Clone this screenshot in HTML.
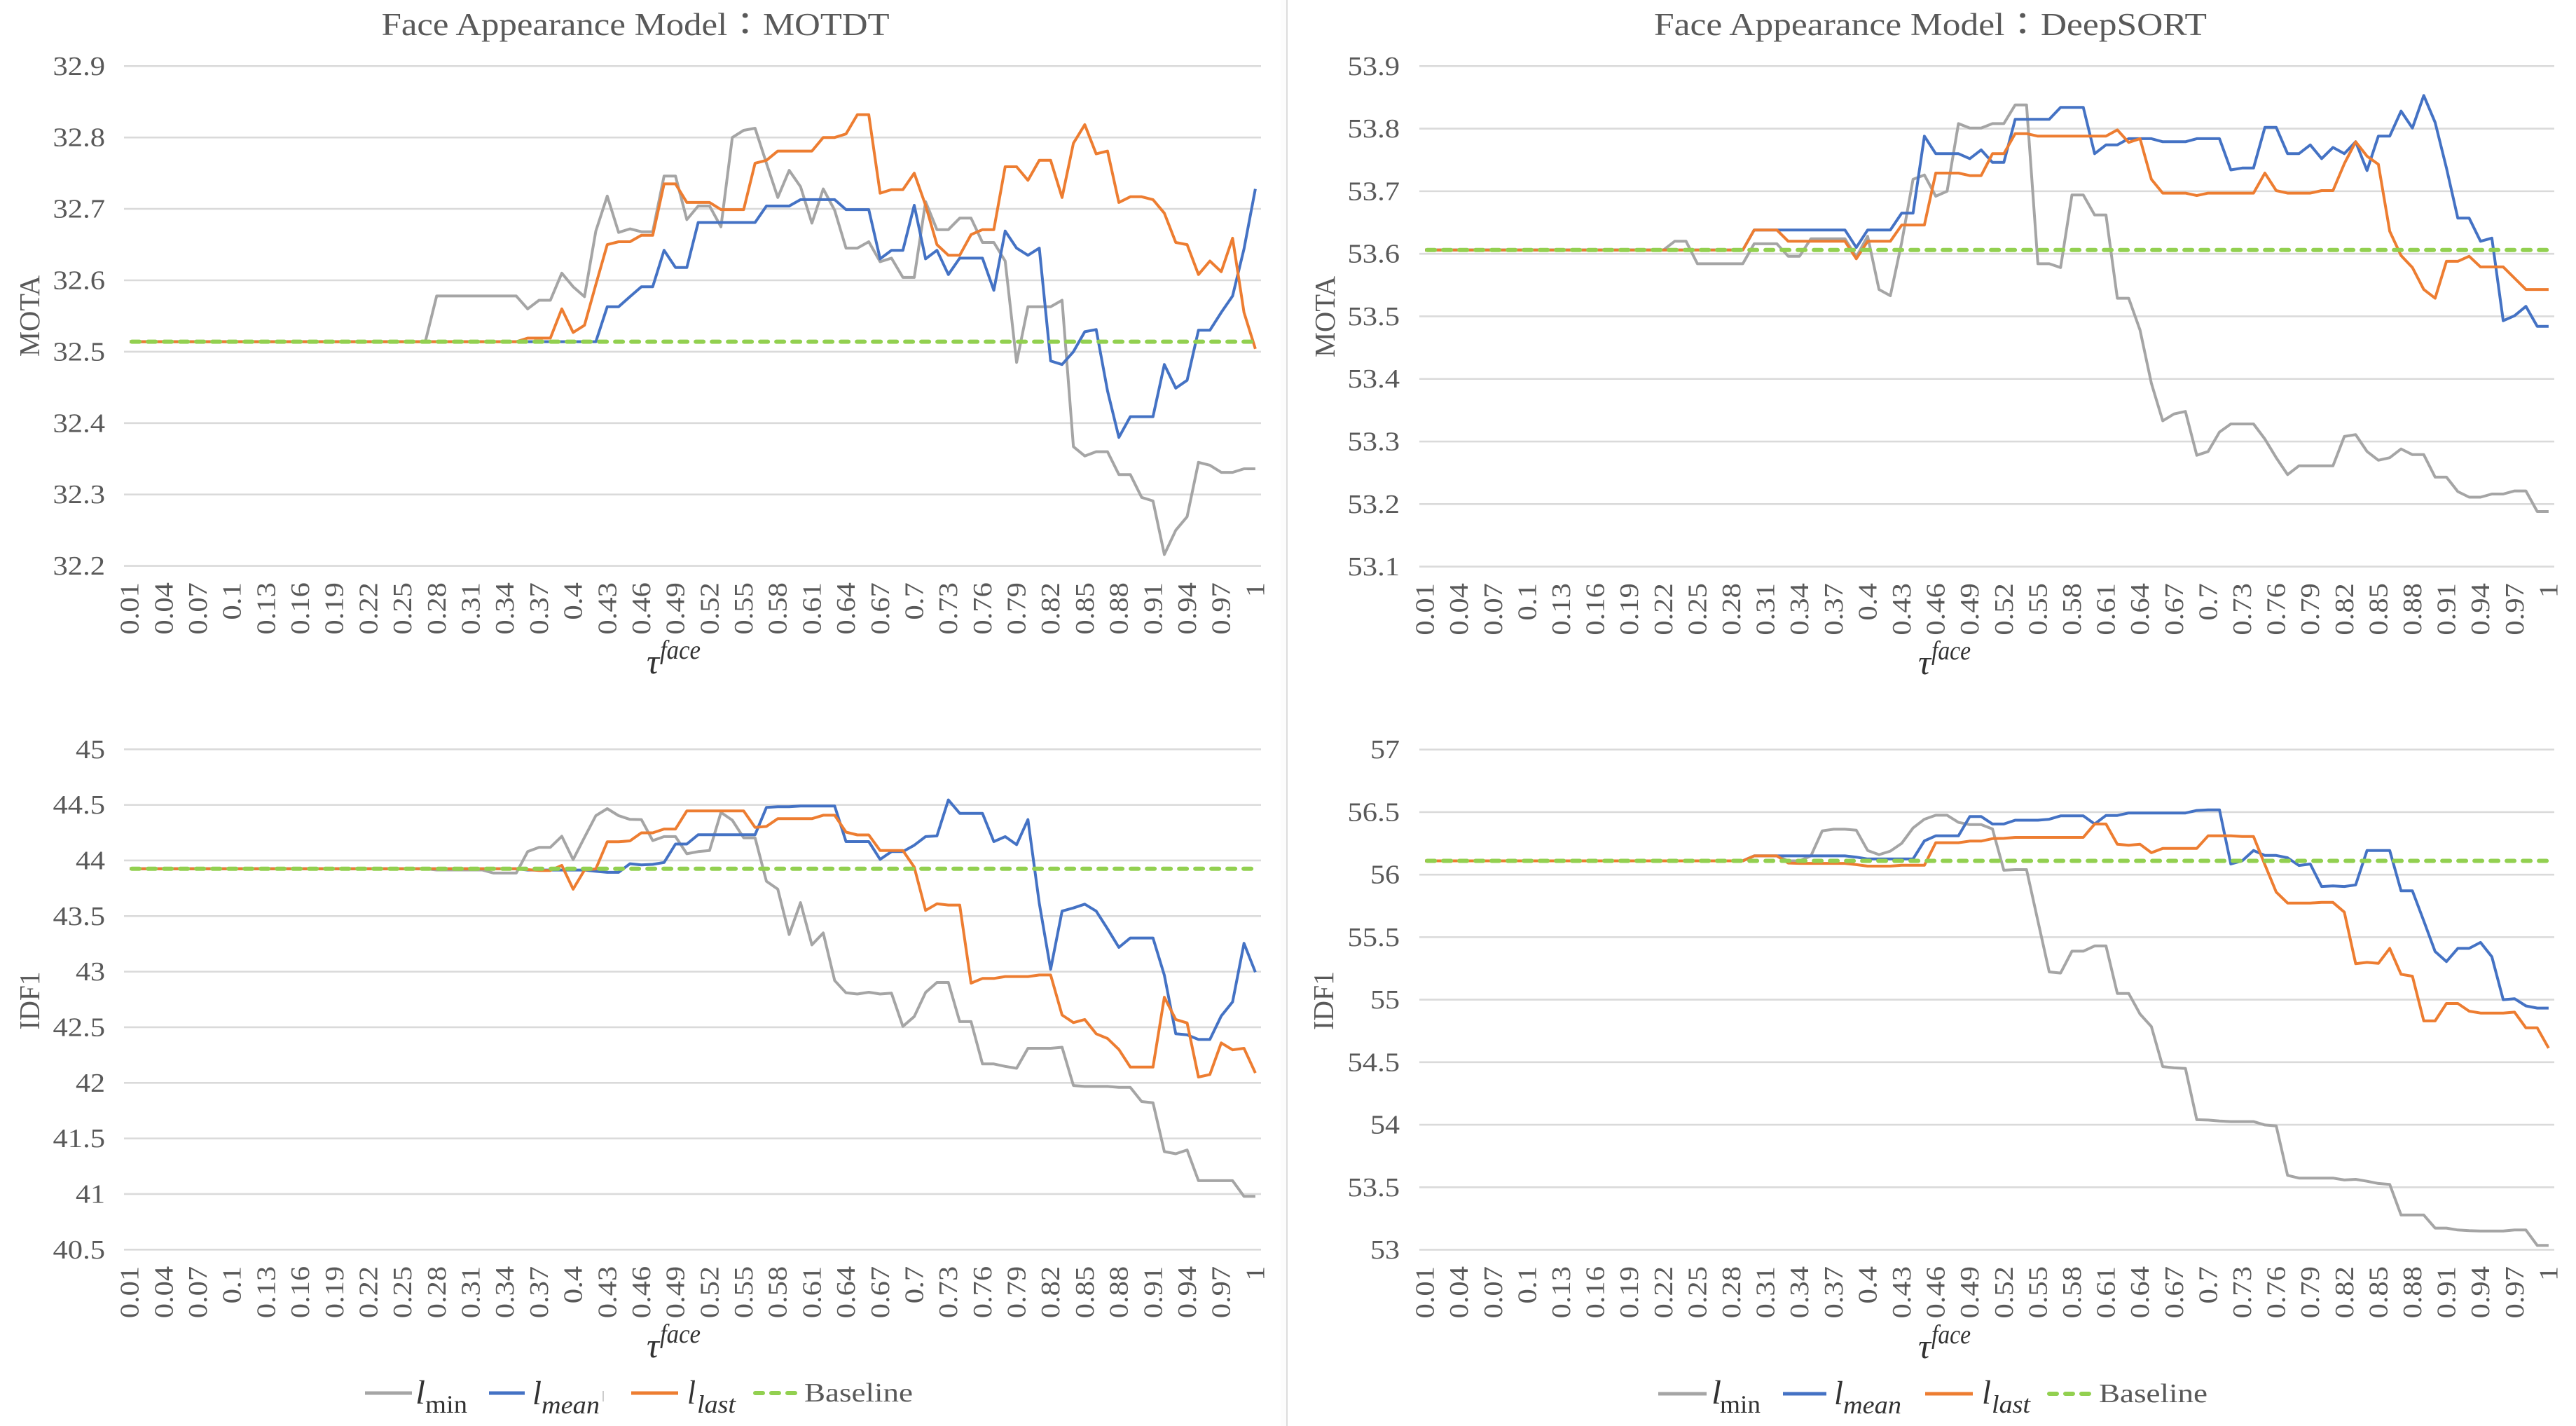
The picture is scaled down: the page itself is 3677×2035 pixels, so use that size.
<!DOCTYPE html>
<html lang="en">
<head>
<meta charset="utf-8">
<title>Face Appearance Model charts</title>
<style>
html,body{margin:0;padding:0;background:#fff;}
svg{display:block;}
text{fill:#595959;font-family:"Liberation Serif","Noto Sans CJK TC",serif;}
.math{fill:#333;font-style:italic;}
</style>
</head>
<body>
<svg id="figure" xmlns="http://www.w3.org/2000/svg" width="3677" height="2035" viewBox="0 0 3677 2035">
  <rect x="0" y="0" width="3677" height="2035" fill="#ffffff"/>
  <rect x="1828" y="0" width="9" height="2035" fill="#fcfcfc"/>
  <line x1="1837" y1="0" x2="1837" y2="2035" stroke="#dcdcdc" stroke-width="2"/>

  <text x="544.6" y="50" font-size="45" textLength="725" lengthAdjust="spacingAndGlyphs">Face Appearance Model：MOTDT</text>
  <text x="2361" y="50" font-size="45" textLength="789" lengthAdjust="spacingAndGlyphs">Face Appearance Model：DeepSORT</text>

  <text transform="rotate(-90 56 451)" x="56" y="451" font-size="41" text-anchor="middle" textLength="116" lengthAdjust="spacingAndGlyphs">MOTA</text>
  <text transform="rotate(-90 1905 452)" x="1905" y="452" font-size="41" text-anchor="middle" textLength="116" lengthAdjust="spacingAndGlyphs">MOTA</text>
  <text transform="rotate(-90 56 1428)" x="56" y="1428" font-size="41" text-anchor="middle" textLength="83" lengthAdjust="spacingAndGlyphs">IDF1</text>
  <text transform="rotate(-90 1903 1428)" x="1903" y="1428" font-size="41" text-anchor="middle" textLength="84" lengthAdjust="spacingAndGlyphs">IDF1</text>

  <g>
    <text class="math" x="923" y="961" font-size="50">τ</text>
    <text class="math" x="942" y="940" font-size="38" textLength="58" lengthAdjust="spacingAndGlyphs">face</text>
  </g>
  <g>
    <text class="math" x="2738" y="962" font-size="50">τ</text>
    <text class="math" x="2757" y="941" font-size="38" textLength="56" lengthAdjust="spacingAndGlyphs">face</text>
  </g>
  <g>
    <text class="math" x="923" y="1937" font-size="50">τ</text>
    <text class="math" x="942" y="1916" font-size="38" textLength="58" lengthAdjust="spacingAndGlyphs">face</text>
  </g>
  <g>
    <text class="math" x="2738" y="1938" font-size="50">τ</text>
    <text class="math" x="2757" y="1917" font-size="38" textLength="56" lengthAdjust="spacingAndGlyphs">face</text>
  </g>

  <g id="plots"></g>

  <g>
    <g>
      <line x1="521" y1="1988" x2="588" y2="1988" stroke="#a5a5a5" stroke-width="5"/>
      <text class="math" x="593" y="2003" font-size="48" textLength="14" lengthAdjust="spacingAndGlyphs">l</text>
      <text x="607" y="2016" font-size="36" textLength="60" lengthAdjust="spacingAndGlyphs" fill="#333" style="fill:#333">min</text>
    </g>
    <g>
      <line x1="698" y1="1988" x2="749" y2="1988" stroke="#4472c4" stroke-width="5"/>
      <text class="math" x="760" y="2004" font-size="48" textLength="13" lengthAdjust="spacingAndGlyphs">l</text>
      <text class="math" x="773" y="2017" font-size="36" textLength="83" lengthAdjust="spacingAndGlyphs">mean</text>
      <line x1="861" y1="1985" x2="861" y2="2000" stroke="#bbbbbb" stroke-width="1.5"/>
    </g>
    <g>
      <line x1="901" y1="1988" x2="968" y2="1988" stroke="#ed7d31" stroke-width="5"/>
      <text class="math" x="981" y="2003" font-size="48" textLength="12" lengthAdjust="spacingAndGlyphs">l</text>
      <text class="math" x="995" y="2016" font-size="36" textLength="55" lengthAdjust="spacingAndGlyphs">last</text>
    </g>
    <g>
      <line x1="1078" y1="1988" x2="1136" y2="1988" stroke="#92d050" stroke-width="6" stroke-dasharray="11 12" stroke-linecap="round"/>
      <text x="1148" y="2000" font-size="38" textLength="155" lengthAdjust="spacingAndGlyphs">Baseline</text>
    </g>
  </g>

  <g>
    <g>
      <line x1="2367" y1="1989" x2="2436" y2="1989" stroke="#a5a5a5" stroke-width="5"/>
      <text class="math" x="2443" y="2003" font-size="48" textLength="14" lengthAdjust="spacingAndGlyphs">l</text>
      <text x="2455" y="2016" font-size="36" textLength="58" lengthAdjust="spacingAndGlyphs" style="fill:#333">min</text>
    </g>
    <g>
      <line x1="2545" y1="1989" x2="2607" y2="1989" stroke="#4472c4" stroke-width="5"/>
      <text class="math" x="2618" y="2004" font-size="48" textLength="13" lengthAdjust="spacingAndGlyphs">l</text>
      <text class="math" x="2631" y="2017" font-size="36" textLength="83" lengthAdjust="spacingAndGlyphs">mean</text>
    </g>
    <g>
      <line x1="2748" y1="1989" x2="2816" y2="1989" stroke="#ed7d31" stroke-width="5"/>
      <text class="math" x="2829" y="2003" font-size="48" textLength="13" lengthAdjust="spacingAndGlyphs">l</text>
      <text class="math" x="2843" y="2016" font-size="36" textLength="55" lengthAdjust="spacingAndGlyphs">last</text>
    </g>
    <g>
      <line x1="2925" y1="1989" x2="2984" y2="1989" stroke="#92d050" stroke-width="6" stroke-dasharray="11 12" stroke-linecap="round"/>
      <text x="2996" y="2001" font-size="38" textLength="155" lengthAdjust="spacingAndGlyphs">Baseline</text>
    </g>
  </g>
</svg>

<script>
const categories = ["0.01","0.02","0.03","0.04","0.05","0.06","0.07","0.08","0.09","0.1",
"0.11","0.12","0.13","0.14","0.15","0.16","0.17","0.18","0.19","0.2",
"0.21","0.22","0.23","0.24","0.25","0.26","0.27","0.28","0.29","0.3",
"0.31","0.32","0.33","0.34","0.35","0.36","0.37","0.38","0.39","0.4",
"0.41","0.42","0.43","0.44","0.45","0.46","0.47","0.48","0.49","0.5",
"0.51","0.52","0.53","0.54","0.55","0.56","0.57","0.58","0.59","0.6",
"0.61","0.62","0.63","0.64","0.65","0.66","0.67","0.68","0.69","0.7",
"0.71","0.72","0.73","0.74","0.75","0.76","0.77","0.78","0.79","0.8",
"0.81","0.82","0.83","0.84","0.85","0.86","0.87","0.88","0.89","0.9",
"0.91","0.92","0.93","0.94","0.95","0.96","0.97","0.98","0.99","1"];

const xTickLabels = ["0.01","0.04","0.07","0.1","0.13","0.16","0.19","0.22","0.25","0.28","0.31","0.34","0.37","0.4","0.43","0.46","0.49","0.52","0.55","0.58","0.61","0.64","0.67","0.7","0.73","0.76","0.79","0.82","0.85","0.88","0.91","0.94","0.97","1"];

const motdtMotaTicks = ["32.9","32.8","32.7","32.6","32.5","32.4","32.3","32.2"];
const deepsortMotaTicks = ["53.9","53.8","53.7","53.6","53.5","53.4","53.3","53.2","53.1"];
const motdtIdf1Ticks = ["45","44.5","44","43.5","43","42.5","42","41.5","41","40.5"];
const deepsortIdf1Ticks = ["57","56.5","56","55.5","55","54.5","54","53.5","53"];

const motdtMotaBaseline = 32.514;
const deepsortMotaBaseline = 53.606;
const motdtIdf1Baseline = 43.926;
const deepsortIdf1Baseline = 56.11;

const motdtMotaMin = [32.514,32.514,32.514,32.514,32.514,32.514,32.514,32.514,32.514,32.514,
32.514,32.514,32.514,32.514,32.514,32.514,32.514,32.514,32.514,32.514,
32.514,32.514,32.514,32.514,32.514,32.514,32.514,32.578,32.578,32.578,
32.578,32.578,32.578,32.578,32.578,32.56,32.572,32.572,32.61,32.591,
32.577,32.669,32.718,32.667,32.672,32.668,32.668,32.746,32.746,32.685,
32.704,32.704,32.675,32.8,32.81,32.813,32.764,32.716,32.754,32.731,
32.68,32.728,32.698,32.645,32.645,32.654,32.626,32.631,32.604,32.604,
32.71,32.671,32.671,32.687,32.687,32.653,32.653,32.627,32.485,32.563,
32.563,32.563,32.572,32.367,32.354,32.36,32.36,32.328,32.328,32.296,
32.291,32.216,32.25,32.269,32.345,32.341,32.331,32.331,32.336,32.336];

const motdtMotaMean = [32.514,32.514,32.514,32.514,32.514,32.514,32.514,32.514,32.514,32.514,
32.514,32.514,32.514,32.514,32.514,32.514,32.514,32.514,32.514,32.514,
32.514,32.514,32.514,32.514,32.514,32.514,32.514,32.514,32.514,32.514,
32.514,32.514,32.514,32.514,32.514,32.514,32.514,32.514,32.514,32.514,
32.514,32.514,32.563,32.563,32.577,32.591,32.591,32.642,32.618,32.618,
32.681,32.681,32.681,32.681,32.681,32.681,32.704,32.704,32.704,32.713,
32.713,32.713,32.713,32.699,32.699,32.699,32.63,32.642,32.642,32.705,
32.63,32.642,32.608,32.631,32.631,32.631,32.586,32.669,32.645,32.635,
32.645,32.487,32.482,32.5,32.528,32.531,32.445,32.38,32.409,32.409,
32.409,32.482,32.449,32.46,32.53,32.53,32.555,32.578,32.644,32.728];

const motdtMotaLast = [32.514,32.514,32.514,32.514,32.514,32.514,32.514,32.514,32.514,32.514,
32.514,32.514,32.514,32.514,32.514,32.514,32.514,32.514,32.514,32.514,
32.514,32.514,32.514,32.514,32.514,32.514,32.514,32.514,32.514,32.514,
32.514,32.514,32.514,32.514,32.514,32.519,32.519,32.519,32.56,32.527,
32.537,32.594,32.65,32.654,32.654,32.663,32.663,32.735,32.735,32.709,
32.709,32.709,32.699,32.699,32.699,32.764,32.768,32.781,32.781,32.781,
32.781,32.8,32.8,32.805,32.832,32.832,32.722,32.727,32.727,32.75,
32.705,32.65,32.635,32.635,32.664,32.671,32.671,32.759,32.759,32.74,
32.768,32.768,32.716,32.792,32.818,32.777,32.781,32.709,32.717,32.717,
32.713,32.694,32.653,32.65,32.608,32.627,32.612,32.659,32.555,32.504];

const deepsortMotaMin = [53.606,53.606,53.606,53.606,53.606,53.606,53.606,53.606,53.606,53.606,
53.606,53.606,53.606,53.606,53.606,53.606,53.606,53.606,53.606,53.606,
53.606,53.606,53.62,53.62,53.584,53.584,53.584,53.584,53.584,53.616,
53.616,53.616,53.596,53.596,53.624,53.624,53.624,53.624,53.595,53.628,
53.543,53.533,53.618,53.719,53.726,53.692,53.7,53.808,53.801,53.801,
53.808,53.808,53.838,53.838,53.584,53.584,53.578,53.694,53.694,53.662,
53.662,53.529,53.529,53.478,53.393,53.333,53.344,53.348,53.278,53.284,
53.315,53.328,53.328,53.328,53.304,53.274,53.247,53.261,53.261,53.261,
53.261,53.308,53.311,53.284,53.27,53.274,53.288,53.279,53.279,53.243,
53.243,53.22,53.211,53.211,53.216,53.216,53.221,53.221,53.188,53.188];

const deepsortMotaMean = [53.606,53.606,53.606,53.606,53.606,53.606,53.606,53.606,53.606,53.606,
53.606,53.606,53.606,53.606,53.606,53.606,53.606,53.606,53.606,53.606,
53.606,53.606,53.606,53.606,53.606,53.606,53.606,53.606,53.606,53.638,
53.638,53.638,53.638,53.638,53.638,53.638,53.638,53.638,53.61,53.638,
53.638,53.638,53.665,53.665,53.788,53.76,53.76,53.76,53.752,53.766,
53.746,53.746,53.815,53.815,53.815,53.815,53.834,53.834,53.834,53.76,
53.774,53.774,53.784,53.784,53.784,53.779,53.779,53.779,53.784,53.784,
53.784,53.734,53.737,53.737,53.802,53.802,53.76,53.76,53.774,53.752,
53.77,53.76,53.779,53.733,53.788,53.788,53.828,53.801,53.853,53.81,
53.737,53.657,53.657,53.62,53.625,53.493,53.501,53.516,53.484,53.484];

const deepsortMotaLast = [53.606,53.606,53.606,53.606,53.606,53.606,53.606,53.606,53.606,53.606,
53.606,53.606,53.606,53.606,53.606,53.606,53.606,53.606,53.606,53.606,
53.606,53.606,53.606,53.606,53.606,53.606,53.606,53.606,53.606,53.638,
53.638,53.638,53.62,53.62,53.62,53.62,53.62,53.62,53.592,53.62,
53.62,53.62,53.646,53.646,53.646,53.729,53.729,53.729,53.725,53.725,
53.76,53.76,53.792,53.792,53.788,53.788,53.788,53.788,53.788,53.788,
53.788,53.798,53.778,53.784,53.719,53.697,53.697,53.697,53.693,53.697,
53.697,53.697,53.697,53.697,53.729,53.701,53.697,53.697,53.697,53.701,
53.701,53.744,53.779,53.756,53.743,53.636,53.597,53.578,53.543,53.529,
53.588,53.588,53.596,53.579,53.579,53.579,53.561,53.543,53.543,53.543];

const motdtIdf1Min = [43.926,43.926,43.926,43.926,43.926,43.926,43.926,43.926,43.926,43.926,
43.926,43.926,43.926,43.926,43.926,43.926,43.926,43.926,43.926,43.926,
43.926,43.926,43.926,43.926,43.926,43.926,43.926,43.915,43.915,43.915,
43.915,43.915,43.887,43.887,43.887,44.08,44.118,44.118,44.218,44.008,
44.208,44.403,44.466,44.403,44.37,44.368,44.179,44.215,44.215,44.06,
44.08,44.089,44.432,44.362,44.204,44.204,43.813,43.742,43.334,43.621,
43.241,43.348,42.92,42.81,42.799,42.815,42.799,42.807,42.508,42.596,
42.813,42.903,42.903,42.551,42.551,42.17,42.17,42.148,42.131,42.311,
42.311,42.311,42.32,41.976,41.968,41.968,41.968,41.959,41.959,41.832,
41.821,41.382,41.362,41.396,41.12,41.12,41.12,41.12,40.979,40.979];

const motdtIdf1Mean = [43.926,43.926,43.926,43.926,43.926,43.926,43.926,43.926,43.926,43.926,
43.926,43.926,43.926,43.926,43.926,43.926,43.926,43.926,43.926,43.926,
43.926,43.926,43.926,43.926,43.926,43.926,43.926,43.926,43.926,43.926,
43.926,43.926,43.926,43.926,43.926,43.914,43.914,43.914,43.914,43.914,
43.914,43.903,43.893,43.893,43.971,43.96,43.965,43.982,44.148,44.148,
44.232,44.232,44.232,44.232,44.232,44.232,44.477,44.483,44.483,44.49,
44.49,44.49,44.49,44.17,44.17,44.17,44.01,44.08,44.08,44.137,
44.215,44.221,44.545,44.424,44.424,44.424,44.17,44.215,44.142,44.368,
43.615,43.021,43.545,43.573,43.607,43.545,43.385,43.218,43.303,43.303,
43.303,42.968,42.441,42.432,42.39,42.39,42.601,42.728,43.255,42.996];

const motdtIdf1Last = [43.926,43.926,43.926,43.926,43.926,43.926,43.926,43.926,43.926,43.926,
43.926,43.926,43.926,43.926,43.926,43.926,43.926,43.926,43.926,43.926,
43.926,43.926,43.926,43.926,43.926,43.926,43.926,43.926,43.926,43.926,
43.926,43.926,43.926,43.926,43.926,43.918,43.91,43.91,43.956,43.742,
43.914,43.924,44.168,44.168,44.176,44.249,44.249,44.283,44.283,44.446,
44.446,44.446,44.446,44.446,44.446,44.297,44.306,44.376,44.376,44.376,
44.376,44.407,44.407,44.255,44.23,44.23,44.089,44.089,44.089,43.94,
43.551,43.61,43.599,43.599,42.897,42.939,42.939,42.956,42.956,42.956,
42.97,42.97,42.61,42.542,42.57,42.441,42.399,42.3,42.142,42.142,
42.142,42.77,42.57,42.539,42.052,42.075,42.359,42.297,42.311,42.089];

const deepsortIdf1Min = [56.11,56.11,56.11,56.11,56.11,56.11,56.11,56.11,56.11,56.11,
56.11,56.11,56.11,56.11,56.11,56.11,56.11,56.11,56.11,56.11,
56.11,56.11,56.11,56.11,56.11,56.11,56.11,56.11,56.11,56.15,
56.15,56.15,56.11,56.11,56.15,56.35,56.363,56.363,56.355,56.193,
56.16,56.188,56.25,56.373,56.443,56.475,56.475,56.418,56.4,56.4,
56.365,56.035,56.04,56.04,55.63,55.222,55.213,55.388,55.388,55.43,
55.43,55.05,55.05,54.885,54.785,54.465,54.455,54.45,54.04,54.037,
54.03,54.025,54.025,54.025,53.998,53.99,53.595,53.573,53.573,53.573,
53.573,53.558,53.563,53.548,53.53,53.523,53.278,53.278,53.278,53.173,
53.173,53.158,53.153,53.15,53.15,53.15,53.158,53.158,53.035,53.035];

const deepsortIdf1Mean = [56.11,56.11,56.11,56.11,56.11,56.11,56.11,56.11,56.11,56.11,
56.11,56.11,56.11,56.11,56.11,56.11,56.11,56.11,56.11,56.11,
56.11,56.11,56.11,56.11,56.11,56.11,56.11,56.11,56.11,56.15,
56.15,56.15,56.15,56.15,56.15,56.15,56.15,56.15,56.14,56.125,
56.125,56.125,56.125,56.125,56.27,56.31,56.31,56.31,56.465,56.465,
56.405,56.405,56.435,56.435,56.435,56.443,56.47,56.47,56.47,56.405,
56.473,56.473,56.493,56.493,56.493,56.493,56.493,56.493,56.513,56.518,
56.518,56.085,56.11,56.193,56.153,56.153,56.135,56.073,56.085,55.905,
55.91,55.905,55.918,56.193,56.193,56.193,55.87,55.87,55.63,55.385,
55.305,55.41,55.41,55.458,55.343,55.0,55.008,54.95,54.933,54.933];

const deepsortIdf1Last = [56.11,56.11,56.11,56.11,56.11,56.11,56.11,56.11,56.11,56.11,
56.11,56.11,56.11,56.11,56.11,56.11,56.11,56.11,56.11,56.11,
56.11,56.11,56.11,56.11,56.11,56.11,56.11,56.11,56.11,56.15,
56.15,56.15,56.093,56.09,56.09,56.09,56.09,56.09,56.08,56.068,
56.068,56.068,56.075,56.075,56.075,56.255,56.255,56.255,56.268,56.268,
56.288,56.29,56.298,56.298,56.298,56.298,56.298,56.298,56.298,56.405,
56.405,56.243,56.235,56.243,56.175,56.21,56.21,56.21,56.21,56.31,
56.31,56.31,56.305,56.305,56.08,55.86,55.773,55.773,55.773,55.778,
55.778,55.7,55.288,55.298,55.29,55.41,55.203,55.188,54.83,54.83,
54.97,54.97,54.908,54.893,54.893,54.893,54.9,54.775,54.775,54.613];

const SVG_NS = 'http://www.w3.org/2000/svg';
const plotsRoot = document.getElementById('plots');

function makePanel(name, box, ticks, minSeries, meanSeries, lastSeries, baselineValue) {
  const yMax = parseFloat(ticks[0]);
  const yMin = parseFloat(ticks[ticks.length - 1]);
  const xScale = function (i) {
    return box.left + (i + 0.5) * (box.right - box.left) / categories.length;
  };
  const yScale = function (v) {
    return box.top + (yMax - v) / (yMax - yMin) * (box.bottom - box.top);
  };
  const labelWidth = function (label) {
    let w = 0;
    for (const ch of label) { w += ch === '.' ? 11.5 : 21; }
    return w;
  };

  const group = document.createElementNS(SVG_NS, 'g');
  
  
  plotsRoot.appendChild(group);

  ticks.forEach(function (tick) {
    const y = yScale(parseFloat(tick));
    const grid = document.createElementNS(SVG_NS, 'line');
    
    
    grid.setAttribute('x1', box.left);
    grid.setAttribute('x2', box.right);
    grid.setAttribute('y1', y);
    grid.setAttribute('y2', y);
    grid.setAttribute('stroke', '#dadada');
    grid.setAttribute('stroke-width', '2.6');
    group.appendChild(grid);

    const label = document.createElementNS(SVG_NS, 'text');
    
    
    label.setAttribute('x', box.labelRight);
    label.setAttribute('y', y + 12.5);
    label.setAttribute('font-size', '38');
    label.setAttribute('text-anchor', 'end');
    label.setAttribute('textLength', labelWidth(tick));
    label.setAttribute('lengthAdjust', 'spacingAndGlyphs');
    label.textContent = tick;
    group.appendChild(label);
  });

  xTickLabels.forEach(function (tick) {
    const x = xScale(categories.indexOf(tick)) + 12.5;
    const y = box.bottom + 23.5;
    const label = document.createElementNS(SVG_NS, 'text');
    
    
    label.setAttribute('x', x);
    label.setAttribute('y', y);
    label.setAttribute('font-size', '38');
    label.setAttribute('text-anchor', 'end');
    label.setAttribute('textLength', labelWidth(tick));
    label.setAttribute('lengthAdjust', 'spacingAndGlyphs');
    label.setAttribute('transform', 'rotate(-90 ' + x + ' ' + y + ')');
    label.textContent = tick;
    group.appendChild(label);
  });

  const drawSeries = function (values, color, seriesName) {
    const line = document.createElementNS(SVG_NS, 'polyline');
    
    
    line.setAttribute('points', values.map(function (v, i) {
      return xScale(i).toFixed(1) + ',' + yScale(v).toFixed(1);
    }).join(' '));
    line.setAttribute('fill', 'none');
    line.setAttribute('stroke', color);
    line.setAttribute('stroke-width', '4');
    line.setAttribute('stroke-linejoin', 'round');
    group.appendChild(line);
  };
  drawSeries(minSeries, '#a5a5a5', 'series-lmin');
  drawSeries(meanSeries, '#4472c4', 'series-lmean');
  drawSeries(lastSeries, '#ed7d31', 'series-llast');

  const base = document.createElementNS(SVG_NS, 'line');
  
  
  base.setAttribute('x1', xScale(0) + 3);
  base.setAttribute('x2', xScale(categories.length - 1));
  base.setAttribute('y1', yScale(baselineValue));
  base.setAttribute('y2', yScale(baselineValue));
  base.setAttribute('stroke', '#92d050');
  base.setAttribute('stroke-width', '6');
  base.setAttribute('stroke-dasharray', '11 12');
  base.setAttribute('stroke-linecap', 'round');
  group.appendChild(base);
}

makePanel('panel-motdt-mota', {left: 177, right: 1800, top: 94.3, bottom: 807.6, labelRight: 150}, motdtMotaTicks, motdtMotaMin, motdtMotaMean, motdtMotaLast, motdtMotaBaseline);
makePanel('panel-deepsort-mota', {left: 2026, right: 3646, top: 94.3, bottom: 808.6, labelRight: 1998}, deepsortMotaTicks, deepsortMotaMin, deepsortMotaMean, deepsortMotaLast, deepsortMotaBaseline);
makePanel('panel-motdt-idf1', {left: 177, right: 1800, top: 1069.3, bottom: 1783.3, labelRight: 150}, motdtIdf1Ticks, motdtIdf1Min, motdtIdf1Mean, motdtIdf1Last, motdtIdf1Baseline);
makePanel('panel-deepsort-idf1', {left: 2026, right: 3646, top: 1069.7, bottom: 1783.5, labelRight: 1998}, deepsortIdf1Ticks, deepsortIdf1Min, deepsortIdf1Mean, deepsortIdf1Last, deepsortIdf1Baseline);
</script>
</body>
</html>
